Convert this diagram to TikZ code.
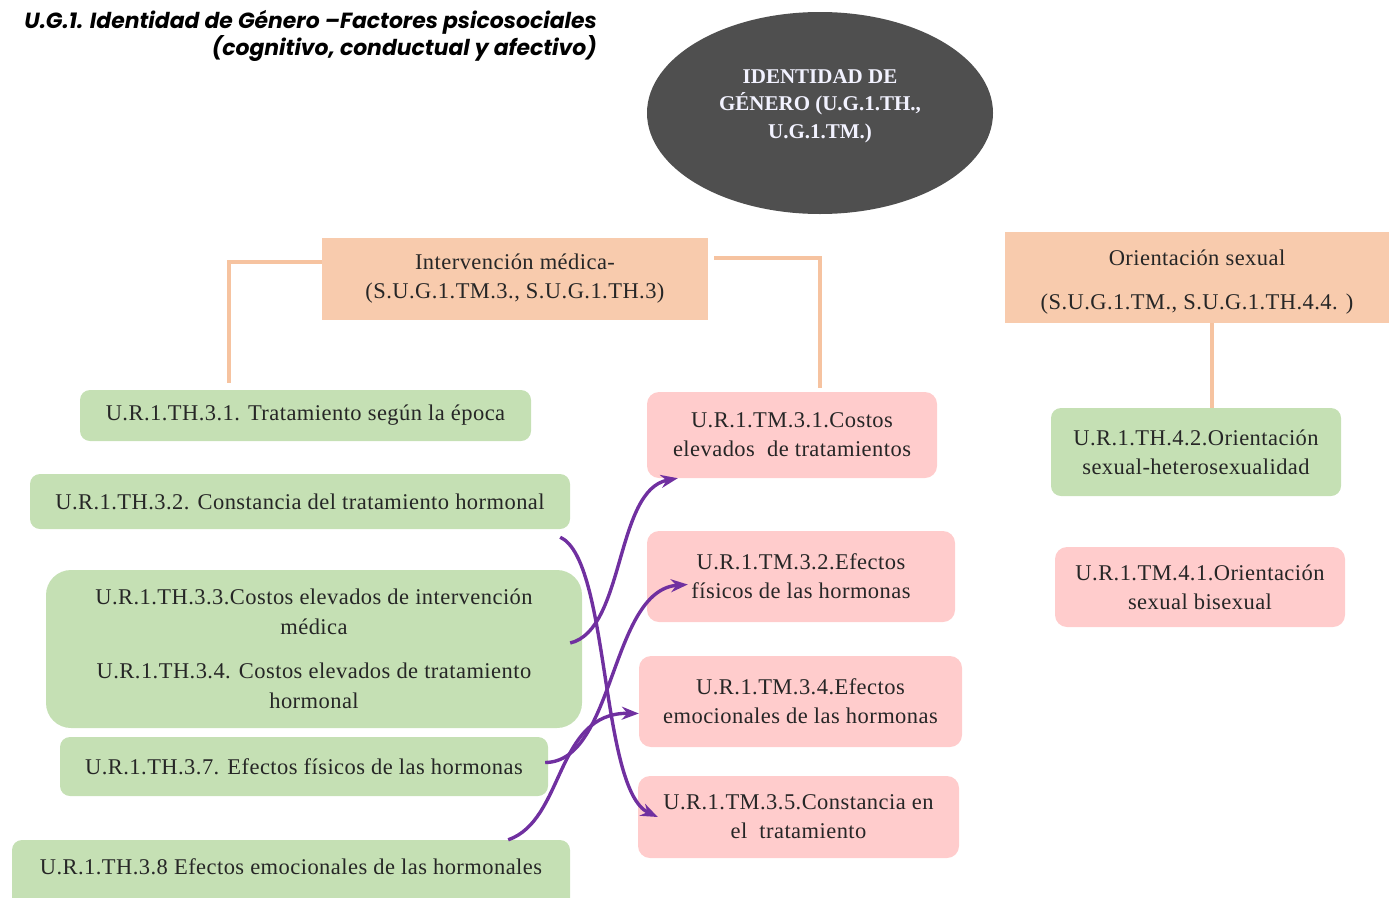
\documentclass[tikz,border=0pt]{standalone}
\usepackage{fontspec}
\setmainfont{Liberation Serif}[LetterSpace=2.0]
\newfontfamily\titlefont{Poppins}
\newfontfamily\ellfont{Liberation Serif}
\usetikzlibrary{arrows.meta,calc,shapes.geometric}
\definecolor{grn}{HTML}{C5E0B4}
\definecolor{pnk}{HTML}{FFCCCC}
\definecolor{org}{HTML}{F8CBAD}
\definecolor{orgline}{HTML}{F6C3A0}
\definecolor{elli}{HTML}{4F4F4F}
\definecolor{txt}{HTML}{262626}
\definecolor{purp}{HTML}{7030A0}
\begin{document}
\begin{tikzpicture}[x=1pt,y=-1pt,
  gbox/.style={fill=grn, rounded corners=10pt, align=center, inner sep=0pt, text=txt, font=\fontsize{22.5}{29}\selectfont},
  pbox/.style={fill=pnk, rounded corners=12pt, align=center, inner sep=0pt, text=txt, font=\fontsize{22.5}{29}\selectfont},
  obox/.style={fill=org, align=center, inner sep=0pt, text=txt, font=\fontsize{22.5}{29}\selectfont},
  oline/.style={draw=orgline, line width=3.5pt},
  parrow/.style={draw=purp, line width=3.4pt, -{Stealth[length=17pt,width=13pt]}}
]
\useasboundingbox (0,0) rectangle (1389,897);
% title
\node[anchor=north east, align=right, inner sep=0pt, font=\titlefont\bfseries\itshape\fontsize{21.9}{24}\selectfont] (title) at (597,10)
  {U.G.1. Identidad de Género –Factores psicosociales\\(cognitivo, conductual y afectivo)};
% ellipse
\node[ellipse, fill=elli, minimum width=346pt, minimum height=202pt, inner sep=0pt] (root) at (820,113) {};
\node[align=center, text=white!95!blue, font=\ellfont\bfseries\fontsize{21}{27.5}\selectfont] (roottext) at (820,106)
  {IDENTIDAD DE\\GÉNERO (U.G.1.TH.,\\U.G.1.TM.)};
% orange boxes
\node[obox, minimum width=386pt, minimum height=82pt] (o1) at (515,279)
  {Intervención médica-\\(S.U.G.1.TM.3., S.U.G.1.TH.3)};
\node[obox, minimum width=384pt, minimum height=91pt, font=\fontsize{22.5}{44}\selectfont] (o2) at (1197,277.5)
  {\rule{0pt}{24pt}Orientación sexual\\(S.U.G.1.TM., S.U.G.1.TH.4.4. )};
% green boxes
\node[gbox, minimum width=451pt, minimum height=51pt] (g1) at (305.5,415.5)
  {U.R.1.TH.3.1. Tratamiento según la época};
\node[gbox, minimum width=540pt, minimum height=55pt] (g2) at (300,501.5)
  {U.R.1.TH.3.2. Constancia del tratamiento hormonal};
\node[gbox, rounded corners=25pt, minimum width=536pt, minimum height=158pt, font=\fontsize{22.5}{29.5}\selectfont] (g3) at (314,649)
  {U.R.1.TH.3.3.Costos elevados de intervención\\médica\\[15pt]U.R.1.TH.3.4. Costos elevados de tratamiento\\hormonal};
\node[gbox, minimum width=488pt, minimum height=59pt] (g4) at (304,766.5)
  {U.R.1.TH.3.7. Efectos físicos de las hormonas};
\node[gbox, minimum width=558pt, minimum height=70pt, text depth=0pt] (g5) at (291,875)
  {\raisebox{16pt}{U.R.1.TH.3.8 Efectos emocionales de las hormonales}};
\node[gbox, minimum width=290pt, minimum height=88pt] (g6) at (1196,452)
  {U.R.1.TH.4.2.Orientación\\sexual-heterosexualidad};
% pink boxes
\node[pbox, minimum width=290pt, minimum height=86pt] (p1) at (792,435)
  {U.R.1.TM.3.1.Costos\\elevados\ \ de tratamientos};
\node[pbox, minimum width=308pt, minimum height=91pt] (p2) at (801,576.5)
  {U.R.1.TM.3.2.Efectos\\físicos de las hormonas};
\node[pbox, minimum width=323pt, minimum height=91pt] (p3) at (800.5,701.5)
  {U.R.1.TM.3.4.Efectos\\emocionales de las hormonas};
\node[pbox, minimum width=321pt, minimum height=82pt] (p4) at (798.5,817)
  {U.R.1.TM.3.5.Constancia en\\el\ \ tratamiento};
\node[pbox, minimum width=290pt, minimum height=80pt] (p5) at (1200,587)
  {U.R.1.TM.4.1.Orientación\\sexual bisexual};
% orange connectors
\coordinate (lc) at (229,383);
\coordinate (rc) at (820,388);
\draw[oline] ([yshift=17pt]o1.west) -| (lc);
\draw[oline] ([xshift=6pt,yshift=21pt]o1.east) -| (rc);
\draw[oline] ([xshift=15pt]o2.south) -- ([xshift=16pt]g6.north);
% purple arrows
\draw[parrow] ([xshift=-10pt,yshift=-8pt]g2.south east) .. controls (610,560) and (600,790) .. ([xshift=20pt]p4.west);
\draw[parrow] ([xshift=-12pt,yshift=6pt]g3.east) .. controls (625,630) and (615,490) .. ([xshift=31pt]p1.south west);
\draw[parrow] ([xshift=-3pt,yshift=4pt]g4.east) .. controls (615,762) and (610,590) .. ([xshift=41pt,yshift=-8pt]p2.west);
\draw[parrow] ([xshift=-62pt]g5.north east) .. controls (565,820) and (555,712) .. ([yshift=-12pt]p3.west);
\end{tikzpicture}
\end{document}
